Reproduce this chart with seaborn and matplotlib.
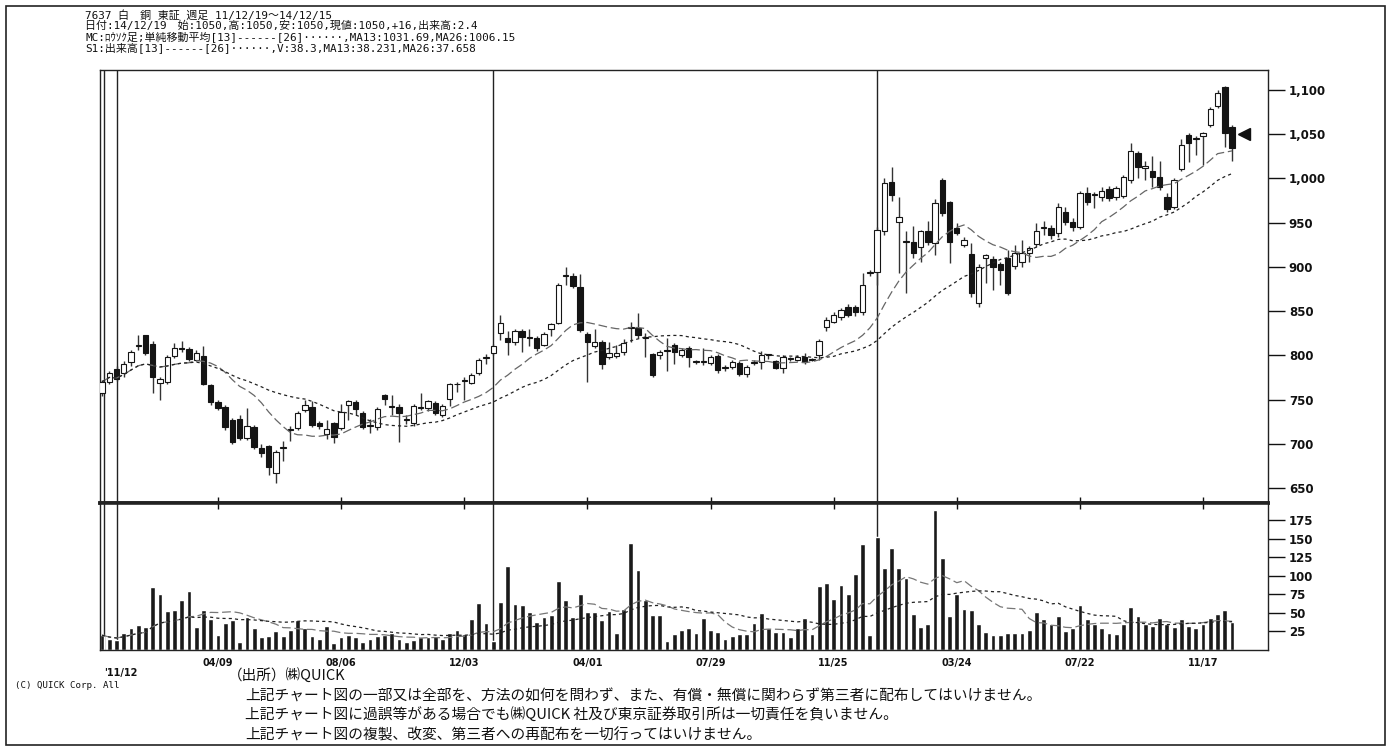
import numpy as np
import pandas as pd
import matplotlib
matplotlib.use("Agg")
import matplotlib.pyplot as plt
import seaborn as sns
from matplotlib.patches import Rectangle

# ----------------------------------------------------------
# Weekly data 11/12/19 - 14/12/15
# ----------------------------------------------------------

opens = [
    757, 770, 785, 780, 792, 811, 823, 813, 769, 770,
    799, 808, 807, 795, 799, 766, 747, 742, 727, 728,
    706, 719, 695, 697, 667, 695, 717, 718, 738, 742,
    723, 711, 723, 718, 744, 747, 735, 720, 719, 755,
    742, 742, 727, 723, 740, 740, 746, 732, 751, 767,
    771, 769, 780, 797, 803, 825, 820, 815, 828, 820,
    820, 812, 830, 837, 890, 890, 877, 824, 811, 815,
    798, 799, 804, 831, 831, 820, 801, 800, 806, 812,
    800, 808, 792, 792, 791, 799, 786, 787, 791, 779,
    791, 792, 800, 793, 786, 796, 795, 798, 795, 800,
    832, 838, 843, 855, 855, 849, 893, 894, 940, 996,
    951, 928, 928, 922, 940, 927, 998, 973, 944, 925,
    915, 859, 910, 909, 903, 910, 901, 905, 916, 926,
    944, 944, 938, 962, 951, 945, 984, 981, 979, 988,
    979, 980, 998, 1029, 1012, 1008, 1002, 979, 968, 1011,
    1049, 1045, 1048, 1060, 1082, 1103, 1058,
]
closes = [
    770, 780, 773, 790, 804, 812, 803, 776, 773, 798,
    808, 807, 796, 803, 768, 747, 740, 719, 702, 706,
    720, 696, 690, 674, 691, 696, 716, 735, 744, 721,
    720, 717, 708, 736, 748, 739, 719, 721, 739, 751,
    743, 735, 728, 743, 741, 748, 735, 743, 767, 768,
    772, 778, 795, 798, 811, 837, 815, 828, 821, 821,
    808, 824, 835, 880, 891, 878, 829, 815, 815, 790,
    803, 803, 814, 832, 823, 821, 778, 804, 805, 804,
    806, 798, 793, 793, 798, 783, 787, 792, 779, 787,
    792, 800, 801, 786, 798, 797, 798, 792, 796, 816,
    840, 846, 851, 846, 849, 880, 894, 942, 995, 981,
    956, 929, 916, 940, 928, 972, 961, 928, 938, 930,
    870, 900, 913, 900, 896, 870, 916, 916, 921, 941,
    945, 936, 968, 951, 945, 984, 973, 982, 986, 978,
    989, 1002, 1031, 1013, 1014, 1002, 990, 965, 998, 1038,
    1040, 1046, 1051, 1079, 1097, 1051, 1034,
]
highs = [
    772, 782, 788, 793, 806, 823, 823, 816, 776, 800,
    814, 816, 809, 806, 810, 768, 749, 744, 729, 732,
    740, 721, 700, 699, 693, 703, 720, 737, 750, 748,
    726, 727, 725, 745, 750, 749, 737, 728, 741, 756,
    755, 745, 733, 745, 757, 750, 748, 745, 769, 770,
    776, 780, 797, 801, 813, 846, 828, 830, 830, 830,
    822, 826, 837, 882, 900, 893, 892, 826, 830, 817,
    815, 812, 818, 838, 848, 825, 803, 806, 820, 814,
    808, 810, 795, 808, 800, 801, 789, 795, 793, 789,
    795, 805, 802, 795, 800, 798, 800, 803, 797, 818,
    843, 849, 853, 858, 857, 893, 897, 945, 1000, 1013,
    979, 940, 946, 942, 952, 977, 1000, 975, 950, 934,
    927, 903, 915, 912, 905, 919, 925, 930, 924, 950,
    952, 947, 972, 968, 955, 986, 990, 985, 990, 992,
    991, 1004, 1040, 1031, 1020, 1025, 1020, 983, 1000, 1045,
    1051, 1048, 1053, 1081, 1100, 1104, 1060,
]
lows = [
    754, 768, 771, 776, 788, 806, 800, 757, 750, 768,
    797, 804, 794, 793, 766, 744, 738, 716, 700, 704,
    704, 694, 685, 665, 656, 681, 703, 716, 736, 719,
    717, 705, 701, 716, 727, 732, 717, 712, 715, 744,
    732, 702, 722, 720, 738, 737, 733, 730, 743, 758,
    750, 767, 778, 790, 800, 817, 800, 812, 804, 810,
    805, 810, 822, 835, 880, 876, 826, 770, 808, 785,
    796, 797, 800, 815, 820, 798, 776, 796, 782, 790,
    798, 787, 790, 789, 789, 780, 782, 785, 777, 776,
    789, 785, 796, 784, 780, 793, 793, 790, 793, 795,
    828, 836, 840, 843, 845, 846, 890, 880, 936, 975,
    893, 870, 910, 905, 925, 913, 958, 904, 936, 922,
    866, 855, 882, 874, 880, 868, 898, 900, 905, 922,
    936, 932, 934, 947, 940, 943, 970, 967, 975, 975,
    976, 978, 995, 1000, 998, 990, 987, 962, 965, 1008,
    1019, 1027, 1015, 1058, 1080, 1035, 1020,
]
volumes = [
    20, 15, 13.5, 23, 29, 34, 31.5, 85, 76, 53,
    54, 67, 79, 31.5, 54, 42, 20, 37, 41, 11,
    44, 30, 17.5, 19, 26, 19, 27, 40, 30, 19,
    15, 33, 10, 17, 20, 17, 11, 15, 19, 20,
    23, 15, 11, 13.5, 17.5, 17.5, 19, 15, 22.5, 27,
    22, 42, 63, 37, 12, 64, 113.5, 62.6, 61, 51,
    38, 44.6, 47, 93, 68, 44.6, 76, 51, 51, 40,
    53, 22.5, 55, 143.7, 107.7, 68, 47, 47, 12, 21,
    26.6, 29, 22.5, 43.7, 26.6, 24.8, 15, 19, 21, 21,
    37, 49.5, 30, 24.8, 24.3, 17.6, 29, 43.7, 21, 86.5,
    90, 68.5, 87.4, 76, 102, 143, 20, 152.7, 111, 138,
    111, 97, 49, 31.5, 34.7, 188, 124, 46, 76, 55,
    53.6, 35.6, 24.3, 20, 20, 23.4, 23.4, 23.4, 26.6, 51,
    42, 35.6, 46, 25.7, 29, 60, 42, 35.6, 29, 23.4,
    21, 35.6, 58, 46, 35.6, 33, 43.7, 35.6, 31.5, 42,
    33, 29, 35.6, 43.7, 48, 54, 38.3,
]
last_price = 1050

date_pos = [16, 33, 50, 67, 84, 101, 118, 135, 152]
date_labels = ["04/09", "08/06", "12/03", "04/01", "07/29",
               "11/25", "03/24", "07/22", "11/17"]
year_start = [2, 54, 107]

price_ticks = list(range(650, 1101, 50))
vol_ticks = [25, 50, 75, 100, 125, 150, 175]

header = [
    "7637 白　銅 東証 週足 11/12/19～14/12/15",
    "日付:14/12/19　始:1050,高:1050,安:1050,現値:1050,+16,出来高:2.4",
    "MC:ﾛｳｿｸ足;単純移動平均[13]------[26]······,MA13:1031.69,MA26:1006.15",
    "S1:出来高[13]------[26]······,V:38.3,MA13:38.231,MA26:37.658",
]
notes = [
    "上記チャート図の一部又は全部を、方法の如何を問わず、また、有償・無償に関わらず第三者に配布してはいけません。",
    "上記チャート図に過誤等がある場合でも㈱QUICK 社及び東京証券取引所は一切責任を負いません。",
    "上記チャート図の複製、改変、第三者への再配布を一切行ってはいけません。",
]

# ----------------------------------------------------------
# Frame
# ----------------------------------------------------------

df = pd.DataFrame({"week": np.arange(len(closes)), "open": opens,
                   "close": closes, "high": highs, "low": lows,
                   "volume": volumes})
df["ma13"] = df["close"].rolling(13, min_periods=1).mean()
df["ma26"] = df["close"].rolling(26, min_periods=1).mean()
df["vma13"] = df["volume"].rolling(13, min_periods=1).mean()
df["vma26"] = df["volume"].rolling(26, min_periods=1).mean()

sns.set_style("white")
plt.rcParams["font.family"] = ["DejaVu Sans", "Noto Sans CJK JP"]

W, H = 1391, 749
fig = plt.figure(figsize=(W / 100, H / 100), dpi=100)


def fx(px):
    return px / W


def fy(py):
    return 1 - py / H


ax_p = fig.add_axes([fx(100), fy(503), fx(1268) - fx(100), fy(70) - fy(503)])
ax_v = fig.add_axes([fx(100), fy(650), fx(1268) - fx(100), fy(503) - fy(650)],
                    sharex=ax_p)

# ----------------------------------------------------------
# Candles + moving averages
# ----------------------------------------------------------

up = df["close"] >= df["open"]
body_lo = df[["open", "close"]].min(axis=1)
body_h = (df["close"] - df["open"]).abs().clip(lower=0.7)

ax_p.vlines(df["week"], df["low"], df["high"], color="#333", lw=1, zorder=2)
ax_p.bar(df["week"], body_h, bottom=body_lo, width=0.74,
         color=np.where(up, "white", "#141414"), edgecolor="#141414",
         linewidth=0.8, zorder=3)

sns.lineplot(data=df, x="week", y="ma13", ax=ax_p, color="#666", lw=0.9, zorder=4)
ax_p.lines[-1].set_dashes([7, 3])
sns.lineplot(data=df, x="week", y="ma26", ax=ax_p, color="#222", lw=0.9, zorder=4)
ax_p.lines[-1].set_dashes([2.5, 2.5])

ax_p.plot(157.6, last_price, marker="<", color="#111", markersize=9,
          clip_on=False, zorder=5)

# ----------------------------------------------------------
# Volume
# ----------------------------------------------------------

sns.barplot(data=df, x="week", y="volume", native_scale=True, color="#1a1a1a",
            saturation=1, width=0.66, errorbar=None, ax=ax_v, zorder=2)
sns.lineplot(data=df, x="week", y="vma13", ax=ax_v, color="#777", lw=0.9, zorder=3)
ax_v.lines[-1].set_dashes([7, 3])
sns.lineplot(data=df, x="week", y="vma26", ax=ax_v, color="#222", lw=0.9, zorder=3)
ax_v.lines[-1].set_dashes([2.5, 2.5])

for ax in (ax_p, ax_v):
    ax.axvline(0.3, color="#222", lw=1, zorder=1)
    for x in year_start:
        ax.axvline(x, color="#222", lw=1, zorder=1)
    ax.set_xlabel("")
    ax.set_ylabel("")
    for s in ax.spines.values():
        s.set_color("#222")
        s.set_linewidth(1)

ax_v.spines["top"].set_linewidth(2.6)
ax_p.spines["bottom"].set_linewidth(2.6)

ax_p.set_xlim(-0.28, 160.96)
ax_p.set_ylim(633, 1122.6)
ax_v.set_ylim(0, 198)

ax_p.yaxis.tick_right()
ax_p.set_yticks(price_ticks)
ax_p.set_yticklabels([f"{v:,}" for v in price_ticks])
ax_p.tick_params(axis="y", direction="out", length=12, width=1, pad=3,
                 labelsize=8.5, colors="#111")
ax_p.tick_params(axis="x", bottom=False, labelbottom=False)

ax_v.yaxis.tick_right()
ax_v.set_yticks(vol_ticks)
ax_v.tick_params(axis="y", direction="out", length=12, width=1, pad=3,
                 labelsize=8.5, colors="#111")
ax_v.set_xticks(date_pos)
ax_v.set_xticklabels(date_labels)
ax_v.tick_params(axis="x", top=True, direction="inout", length=8, width=1,
                 pad=2, labelsize=7, colors="#111")
for t in ax_p.get_yticklabels() + ax_v.get_yticklabels() + ax_v.get_xticklabels():
    t.set_fontweight("bold")

ax_v.text(0.3, -0.12, "'11/12", transform=ax_v.get_xaxis_transform(),
          ha="left", va="top", fontsize=7, fontweight="bold", color="#111")

# ----------------------------------------------------------
# Texts and border
# ----------------------------------------------------------

mono = ["DejaVu Sans Mono", "Noto Sans CJK JP"]
for k, line in enumerate(header):
    fig.text(fx(85), fy(15 + 11 * k), line, family=mono, fontsize=7.9,
             va="center", ha="left", color="#111")

fig.text(fx(15), fy(686), "(C) QUICK Corp. All", family=mono, fontsize=6.6,
         va="center", ha="left", color="#111")
fig.text(fx(228), fy(676), "（出所）㈱QUICK", family=["Noto Sans CJK JP"],
         fontsize=10.5, va="center", ha="left", color="#111")
for k, line in enumerate(notes):
    fig.text(fx(245), fy(696 + 19.5 * k), line, family=["Noto Sans CJK JP"],
             fontsize=10.6, va="center", ha="left", color="#111")

fig.add_artist(Rectangle((fx(6), fy(745)), fx(1385) - fx(6), fy(6) - fy(745),
                         transform=fig.transFigure, fill=False, lw=1.2,
                         ec="#222"))

fig.savefig("out.png", dpi=100)
plt.close(fig)
